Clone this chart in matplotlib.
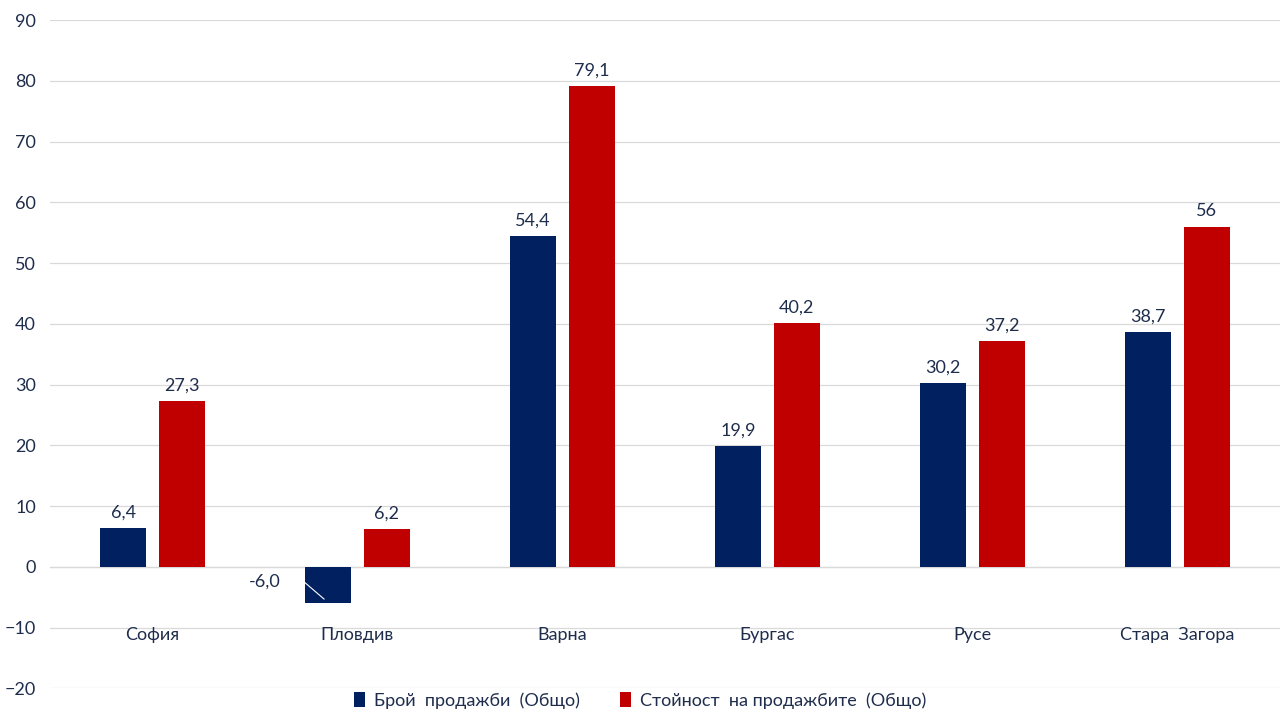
import matplotlib
matplotlib.use('Agg')
import matplotlib.pyplot as plt
import numpy as np

cities = ['София', 'Пловдив', 'Варна', 'Бургас', 'Русе', 'Стара  Загора']
count_vals = [6.4, -6.0, 54.4, 19.9, 30.2, 38.7]
value_vals = [27.3, 6.2, 79.1, 40.2, 37.2, 56]
count_labels = ['6,4', '-6,0', '54,4', '19,9', '30,2', '38,7']
value_labels = ['27,3', '6,2', '79,1', '40,2', '37,2', '56']
series_names = ['Брой  продажби  (Общо)', 'Стойност  на продажбите  (Общо)']

navy = '#002060'
red = '#C00000'
txt = '#1F2D4D'
plt.rcParams['font.family'] = ['Lato', 'DejaVu Sans']

fig = plt.figure(figsize=(12.8, 7.2), dpi=100)
ax = fig.add_axes([0.039, 0.044, 0.961, 0.928])
x = np.arange(len(cities))
w = 0.225
off = 0.143
b1 = ax.bar(x - off, count_vals, w, color=navy, zorder=3, label=series_names[0])
b2 = ax.bar(x + off, value_vals, w, color=red, zorder=3, label=series_names[1])

for i in range(len(cities)):
    if count_vals[i] >= 0:
        ax.text(x[i] - off, count_vals[i] + 1.2, count_labels[i], ha='center', va='bottom', fontsize=13, color=txt)
    else:
        ax.text(x[i] - off - 0.23, count_vals[i] + 3.6, count_labels[i], ha='right', va='center', fontsize=13, color=txt)
        ax.plot([x[i] - off - 0.12, x[i] - off - 0.02], [count_vals[i] + 3.6, count_vals[i] + 0.7], color='white', lw=0.8, zorder=4)
    ax.text(x[i] + off, value_vals[i] + 1.2, value_labels[i], ha='center', va='bottom', fontsize=13, color=txt)
    ax.text(x[i], -11.2, cities[i], ha='center', va='center', fontsize=13, color=txt)

ax.set_ylim(-20, 90)
ax.set_xlim(-0.5, 5.5)
ax.set_yticks(range(-20, 91, 10))
ax.tick_params(axis='y', length=0, labelsize=13, labelcolor=txt, pad=10)
ax.set_xticks([])
ax.grid(axis='y', color='#D9D9D9', lw=0.9, zorder=0)
ax.axhline(0, color='#D9D9D9', lw=0.9, zorder=1)
for s in ax.spines.values():
    s.set_visible(False)

fig.legend(handles=[b1, b2], loc='center', bbox_to_anchor=(0.5, 0.027), ncol=2, frameon=False,
           fontsize=13, handlelength=0.6, handleheight=0.9, columnspacing=2.2, handletextpad=0.5,
           labelcolor=txt)

fig.savefig('out.png', dpi=100)
